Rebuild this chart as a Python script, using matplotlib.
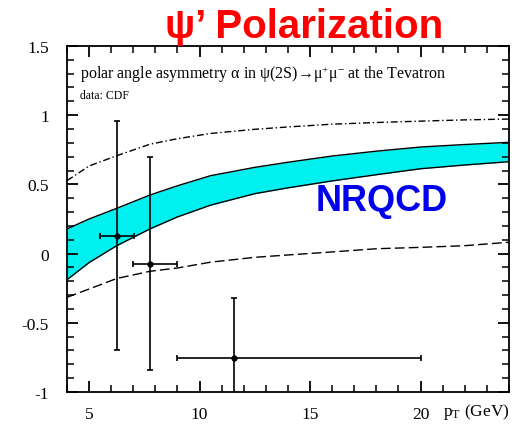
import numpy as np
import matplotlib.pyplot as plt
from matplotlib.ticker import MultipleLocator, FormatStrFormatter

plt.rcParams['axes.unicode_minus'] = False
plt.rcParams['mathtext.fontset'] = 'custom'
plt.rcParams['mathtext.rm'] = 'Liberation Serif'
plt.rcParams['mathtext.it'] = 'Liberation Serif:italic'

# NRQCD band and limit curves
pt_curve = [4, 5, 6.25, 7.75, 9, 10.5, 12.5, 14, 16, 18, 20, 22, 24]
band_upper = [0.178, 0.25, 0.327, 0.423, 0.49, 0.563, 0.623, 0.66, 0.705, 0.74, 0.77, 0.788, 0.804]
band_lower = [-0.189, -0.065, 0.057, 0.178, 0.265, 0.35, 0.433, 0.475, 0.525, 0.57, 0.613, 0.64, 0.664]
dashdot_curve = [0.527, 0.633, 0.707, 0.79, 0.83, 0.868, 0.898, 0.915, 0.935, 0.947, 0.957, 0.966, 0.972]
dashed_curve = [-0.316, -0.256, -0.18, -0.128, -0.104, -0.062, -0.027, -0.01, 0.012, 0.035, 0.045, 0.057, 0.082]

# CDF data points
pt_data = [6.25, 7.75, 11.57]
pt_lo = [5.5, 7.0, 9.0]
pt_hi = [7.05, 9.0, 20.0]
alpha_data = [0.13, -0.075, -0.755]
alpha_lo = [-0.70, -0.84, -1.05]
alpha_hi = [0.96, 0.70, -0.32]

fig, ax = plt.subplots(figsize=(5.13, 4.31), dpi=100)
fig.subplots_adjust(left=0.1306, right=0.9922, bottom=0.0882, top=0.891)

ax.set_xlim(4, 24)
ax.set_ylim(-1, 1.5)
ax.xaxis.set_major_locator(MultipleLocator(5))
ax.xaxis.set_minor_locator(MultipleLocator(1))
ax.yaxis.set_major_locator(MultipleLocator(0.5))
ax.yaxis.set_minor_locator(MultipleLocator(0.1))
ax.xaxis.set_major_formatter(FormatStrFormatter('%g'))
ax.yaxis.set_major_formatter(FormatStrFormatter('%g'))
ax.tick_params(which='both', direction='in', top=True, right=True)
ax.tick_params(which='major', length=8, width=1.3)
ax.tick_params(which='minor', length=5, width=1.1)
ax.tick_params(axis='y', which='major', pad=13)
ax.tick_params(axis='x', which='major', pad=10)
for lab in ax.get_xticklabels() + ax.get_yticklabels():
    lab.set_family('Liberation Serif')
    lab.set_fontsize(12.5)
for s in ax.spines.values():
    s.set_linewidth(1.3)

ax.fill_between(pt_curve, band_lower, band_upper, color='#00f0f0', lw=0)
ax.plot(pt_curve, band_upper, color='black', lw=1.0)
ax.plot(pt_curve, band_lower, color='black', lw=1.0)
ax.plot(pt_curve, dashdot_curve, color='black', lw=1.0, dashes=(5, 2, 1, 2))
ax.plot(pt_curve, dashed_curve, color='black', lw=1.0, dashes=(7, 3))

x = np.array(pt_data)
y = np.array(alpha_data)
xerr = [x - np.array(pt_lo), np.array(pt_hi) - x]
yerr = [y - np.array(alpha_lo), np.array(alpha_hi) - y]
ax.errorbar(x, y, xerr=xerr, yerr=yerr, fmt='o', color='black', ms=3.5,
            elinewidth=1.2, capsize=2.5, capthick=1.2)
ax.set_xlim(4, 24)
ax.set_ylim(-1, 1.5)

ax.text(0.03, 0.92, r'polar angle asymmetry α in ψ(2S)→μ$^{+}$μ$^{-}$ at the Tevatron',
        transform=ax.transAxes, family='Liberation Serif', fontsize=11.5, va='center')
ax.text(0.03, 0.857, 'data: CDF', transform=ax.transAxes,
        family='Liberation Serif', fontsize=8.5, va='center')
ax.text(0.712, 0.552, 'NRQCD', transform=ax.transAxes, color='#0000ee',
        family='Liberation Sans', weight='bold', fontsize=26, ha='center', va='center')

fig.text(0.864, 0.035, r'p$_{\mathrm{T}}$ (GeV)', family='Liberation Serif',
         fontsize=12.5, ha='left', va='baseline')
fig.text(0.593, 0.912, 'ψ’ Polarization', color='#ff0000', family='Liberation Sans',
         weight='bold', fontsize=29, ha='center', va='baseline')

fig.savefig('out.png', dpi=100)
